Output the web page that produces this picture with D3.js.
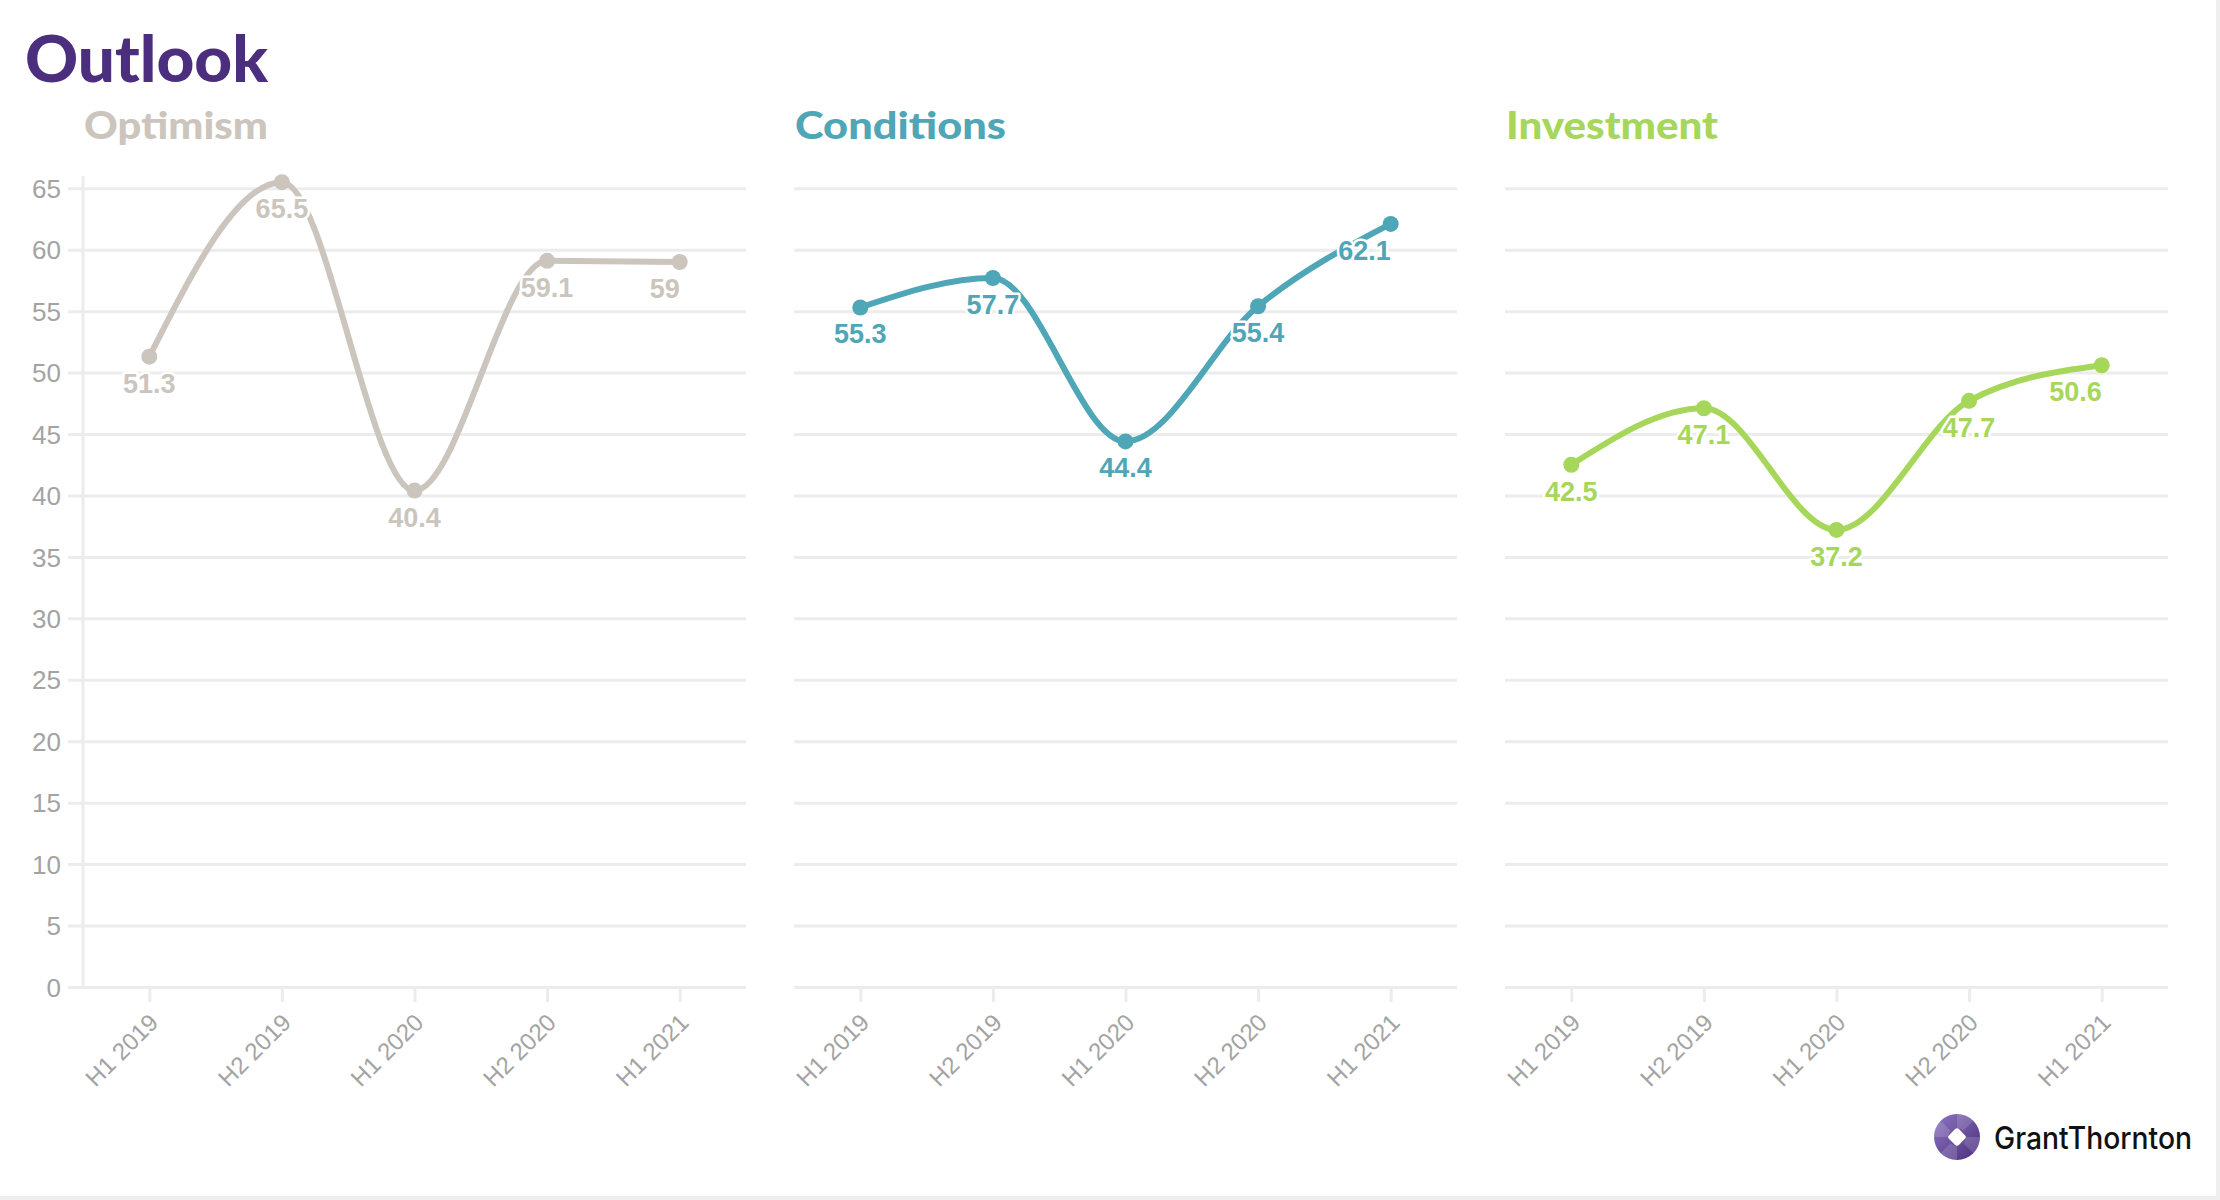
<!DOCTYPE html>
<html>
<head>
<meta charset="utf-8">
<script src="https://cdn.jsdelivr.net/npm/d3@7"></script>
<style>
  html, body { margin: 0; padding: 0; background: #fff; }
  svg { display: block; }
</style>
</head>
<body>
<svg id="chart" width="2220" height="1200"></svg>
<script>
// ---- Data ----
const categories = ["H1 2019", "H2 2019", "H1 2020", "H2 2020", "H1 2021"];
const seriesNames = ["Optimism", "Conditions", "Investment"];
const optimism = [51.3, 65.5, 40.4, 59.1, 59];
const conditions = [55.3, 57.7, 44.4, 55.4, 62.1];
const investment = [42.5, 47.1, 37.2, 47.7, 50.6];
const yTickValues = [0, 5, 10, 15, 20, 25, 30, 35, 40, 45, 50, 55, 60, 65];
const seriesColors = ["#cbc5be", "#4ea6b6", "#a6d75a"];
const seriesValues = [optimism, conditions, investment];

// ---- Layout ----
const W = 2220, H = 1200;
const svg = d3.select("#chart");
svg.append("rect").attr("width", W).attr("height", H).attr("fill", "#fff");
// thin grey frame right/bottom
svg.append("rect").attr("x", W - 4).attr("y", 0).attr("width", 4).attr("height", H).attr("fill", "#efefef");
svg.append("rect").attr("x", 0).attr("y", H - 4).attr("width", W).attr("height", 4).attr("fill", "#efefef");

const titleFont = "Lato, Inter, 'Open Sans', sans-serif";
const axisFont = "'Liberation Sans', Arial, sans-serif";

svg.append("text")
  .attr("x", 25).attr("y", 82)
  .attr("font-family", titleFont).attr("font-weight", 900)
  .attr("font-size", 64).attr("fill", "#4b2e7e")
  .attr("textLength", 243).attr("lengthAdjust", "spacingAndGlyphs")
  .text("Outlook");

const panelLeft0 = 83, panelWidth = 663, panelGap = 711;
const y = d3.scaleLinear().domain([0, 66]).range([987, 176]);
const subtitleWidths = [184, 211, 212];

seriesNames.forEach((name, i) => {
  const left = panelLeft0 + i * panelGap;
  const right = left + panelWidth;
  const x = d3.scalePoint().domain(categories).range([left, right]).padding(0.5);
  const g = svg.append("g");
  const color = seriesColors[i];
  const vals = seriesValues[i];

  // subtitle
  g.append("text")
    .attr("x", left + 1).attr("y", 139)
    .attr("font-family", titleFont).attr("font-weight", 900)
    .attr("font-size", 37).attr("fill", color)
    .attr("textLength", subtitleWidths[i]).attr("lengthAdjust", "spacingAndGlyphs")
    .text(name);

  // gridlines (y axis)
  const yAxis = d3.axisLeft(y).tickValues(yTickValues)
    .tickSize(i === 0 ? -(panelWidth + 15) : -panelWidth)
    .tickFormat(i === 0 ? d3.format("d") : () => "");
  const ya = g.append("g")
    .attr("transform", `translate(${i === 0 ? left - 15 : left},0)`)
    .call(yAxis);
  ya.select(".domain").remove();
  ya.selectAll(".tick line").attr("stroke", "#ececec").attr("stroke-width", 3)
    .attr("x1", 0).attr("x2", i === 0 ? panelWidth + 15 : panelWidth);
  ya.selectAll(".tick text")
    .attr("x", -7).attr("dy", "0.35em")
    .attr("font-family", axisFont).attr("font-size", 26).attr("fill", "#a3a3a3");

  if (i === 0) {
    g.append("line")
      .attr("x1", left).attr("x2", left)
      .attr("y1", y(66)).attr("y2", y(0))
      .attr("stroke", "#ececec").attr("stroke-width", 3);
  }

  // x axis
  const xAxis = d3.axisBottom(x).tickSize(15).tickSizeOuter(0);
  const xa = g.append("g").attr("transform", `translate(0,${y(0)})`).call(xAxis);
  xa.select(".domain").remove();
  xa.selectAll(".tick line").attr("stroke", "#ececec").attr("stroke-width", 3);
  xa.selectAll(".tick text")
    .attr("font-family", axisFont).attr("font-size", 24).attr("fill", "#a3a3a3")
    .attr("text-anchor", "end")
    .attr("transform", "translate(4,31) rotate(-45)")
    .attr("x", 0).attr("y", 0).attr("dy", "0.35em");

  // line
  const line = d3.line()
    .x((d, j) => x(categories[j]))
    .y(d => y(d))
    .curve(d3.curveMonotoneX);
  g.append("path")
    .datum(vals)
    .attr("d", line)
    .attr("fill", "none")
    .attr("stroke", color)
    .attr("stroke-width", 6)
    .attr("stroke-linecap", "round");

  // dots
  g.selectAll("circle.dot").data(vals).join("circle")
    .attr("class", "dot")
    .attr("cx", (d, j) => x(categories[j]))
    .attr("cy", d => y(d))
    .attr("r", 8)
    .attr("fill", color);

  // labels
  g.selectAll("text.val").data(vals).join("text")
    .attr("class", "val")
    .attr("x", (d, j) => x(categories[j]))
    .attr("y", d => y(d) + 36)
    .attr("text-anchor", (d, j) => j === vals.length - 1 ? "end" : "middle")
    .attr("font-family", axisFont).attr("font-weight", 700)
    .attr("font-size", 27).attr("fill", color)
    .attr("stroke", "#fff").attr("stroke-width", 5)
    .attr("stroke-linejoin", "round")
    .attr("paint-order", "stroke")
    .text(d => d);
});

// ---- Logo ----
const logo = svg.append("g").attr("transform", "translate(1957,1137)");
const defs = svg.append("defs");
const grad = defs.append("linearGradient").attr("id", "gtg")
  .attr("x1", "0%").attr("y1", "0%").attr("x2", "100%").attr("y2", "100%");
grad.append("stop").attr("offset", "0%").attr("stop-color", "#8d75c0");
grad.append("stop").attr("offset", "100%").attr("stop-color", "#4b2e7e");
logo.append("circle").attr("r", 23).attr("fill", "url(#gtg)");
// swirl segments
const arcGen = d3.arc().innerRadius(9).outerRadius(23);
[0, 1, 2, 3].forEach(k => {
  logo.append("path")
    .attr("d", arcGen({ startAngle: k * Math.PI / 2, endAngle: k * Math.PI / 2 + Math.PI / 4 }))
    .attr("fill", "#ffffff").attr("opacity", 0.15);
});
logo.append("rect").attr("x", -7).attr("y", -7).attr("width", 14).attr("height", 14)
  .attr("rx", 3).attr("transform", "rotate(45)").attr("fill", "#fff");

svg.append("text")
  .attr("x", 1994).attr("y", 1149)
  .attr("font-family", "Inter, 'Open Sans', sans-serif").attr("font-weight", 500)
  .attr("font-size", 31).attr("fill", "#111")
  .attr("textLength", 198).attr("lengthAdjust", "spacingAndGlyphs")
  .text("GrantThornton");
</script>
</body>
</html>
